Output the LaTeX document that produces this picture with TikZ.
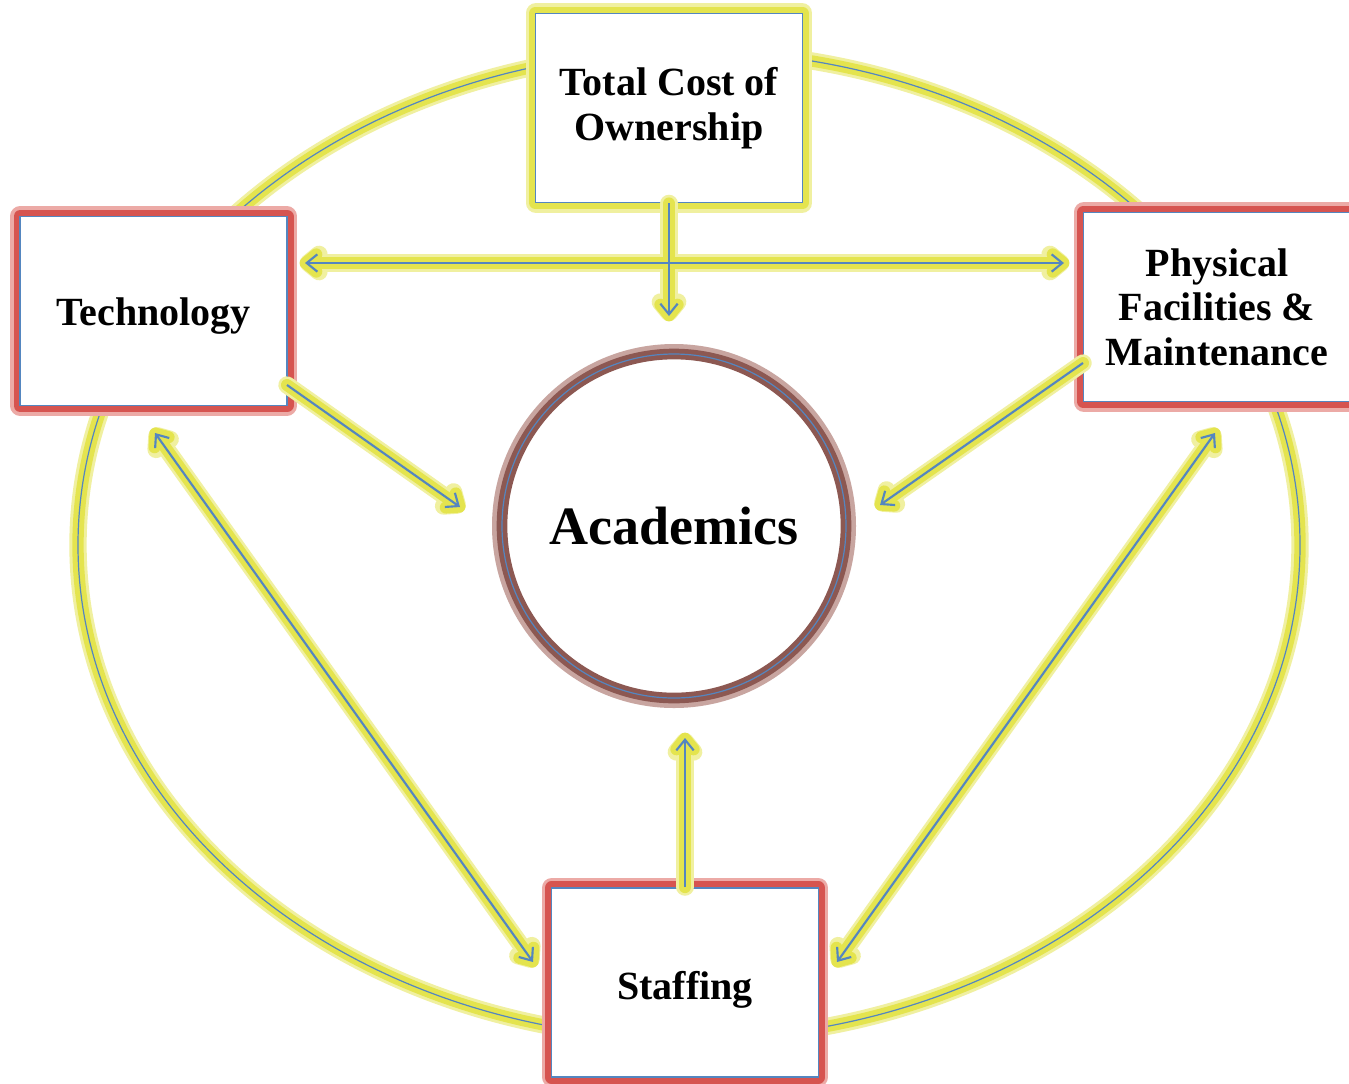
\documentclass[tikz,border=0pt]{standalone}
\usepackage{fontspec}
\setmainfont{Liberation Serif}
\usetikzlibrary{arrows.meta}
\definecolor{glowy}{RGB}{228,228,78}
\definecolor{glowsoft}{RGB}{240,240,160}
\definecolor{blu}{RGB}{84,134,192}
\definecolor{redglow}{RGB}{214,84,80}
\definecolor{redsoft}{RGB}{236,170,166}
\definecolor{brownc}{RGB}{140,88,82}
\definecolor{brownsoft}{RGB}{200,165,160}
\tikzset{
  boxtext/.style={font=\bfseries\fontsize{30}{33.5}\selectfont, align=center, text=black},
  basebox/.style={rectangle, fill=white, draw=blu, line width=1.1pt,
    minimum width=200pt, minimum height=142pt, inner sep=0pt, boxtext},
  rbox/.style={basebox,
    preaction={draw=redsoft, line width=15pt, line join=round},
    preaction={draw=redglow, line width=10pt, line join=round}},
  ybox/.style={basebox,
    preaction={draw=glowsoft, line width=15pt, line join=round},
    preaction={draw=glowy, line width=10pt, line join=round}},
  acad/.style={circle, fill=white, minimum size=258pt, inner sep=0pt,
    draw=brownc, line width=8pt,
    preaction={draw=brownsoft, line width=15pt},
    postaction={draw=blu, line width=0.9pt},
    font=\bfseries\fontsize{40.5}{44}\selectfont},
  glowsoftline/.style={draw=glowsoft, line width=13pt, line cap=round, line join=round,
    >={Straight Barb[length=8pt,width=13pt,round]}},
  glowline/.style={draw=glowy, line width=9pt, line cap=round, line join=round,
    >={Straight Barb[length=8pt,width=13pt,round]}},
  blueline/.style={draw=blu, line width=1.6pt,
    >={Straight Barb[length=8pt,width=13pt]}},
  ext/.style={shorten >=-4pt},
  extb/.style={shorten >=-4pt, shorten <=-4pt}
}
\begin{document}
\begin{tikzpicture}[x=0.75pt,y=-0.75pt]
\useasboundingbox (0,0) rectangle (1349,1083);
\fill[white] (0,0) rectangle (1349,1083);
% outer ring
\draw[glowsoft, line width=13pt] (689,545) ellipse [x radius=458.25pt, y radius=370.5pt];
\draw[glowy, line width=8.5pt] (689,545) ellipse [x radius=458.25pt, y radius=370.5pt];
\draw[blu, line width=0.9pt] (689,545) ellipse [x radius=458.25pt, y radius=370.5pt];
% nodes
\node[ybox] (tco) at (669,108) {Total Cost of\\Ownership};
\node[rbox] (tech) at (153.5,311) {\rule{0pt}{28pt}Technology};
\node[rbox] (phys) at (1217,307) {Physical\\Facilities \&\\Maintenance};
\node[rbox] (staff) at (685,982.5) {\rule{0pt}{32pt}Staffing};
\node[acad] (acad) at (674,526) {Academics};
% connector end points
\coordinate (hl) at (305,263);
\coordinate (hr) at (1064,263);
\coordinate (tcoend) at (669,316);
\coordinate (techout) at (287,385);
\coordinate (techend) at (460,507);
\coordinate (physout) at (1083,363);
\coordinate (physend) at (880,505);
\coordinate (tsA) at (155,433);
\coordinate (tsB) at (533,962);
\coordinate (psA) at (1215,433);
\coordinate (psB) at (837,962);
\coordinate (staffend) at (685,738);
% soft glow layer
\draw[glowsoftline,extb,<->] (hl) -- (hr);
\draw[glowsoftline,ext,->] (tco.south) -- (tcoend);
\draw[glowsoftline,ext,->] (techout) -- (techend);
\draw[glowsoftline,ext,->] (physout) -- (physend);
\draw[glowsoftline,extb,<->] (tsA) -- (tsB);
\draw[glowsoftline,extb,<->] (psA) -- (psB);
\draw[glowsoftline,ext,->] (staff.north) -- (staffend);
% glow layer
\draw[glowline,extb,<->] (hl) -- (hr);
\draw[glowline,ext,->] (tco.south) -- (tcoend);
\draw[glowline,ext,->] (techout) -- (techend);
\draw[glowline,ext,->] (physout) -- (physend);
\draw[glowline,extb,<->] (tsA) -- (tsB);
\draw[glowline,extb,<->] (psA) -- (psB);
\draw[glowline,ext,->] (staff.north) -- (staffend);
% blue layer
\draw[blueline,<->] (hl) -- (hr);
\draw[blueline,->] (tco.south) -- (tcoend);
\draw[blueline,->] (techout) -- (techend);
\draw[blueline,->] (physout) -- (physend);
\draw[blueline,<->] (tsA) -- (tsB);
\draw[blueline,<->] (psA) -- (psB);
\draw[blueline,->] (staff.north) -- (staffend);
\end{tikzpicture}
\end{document}
